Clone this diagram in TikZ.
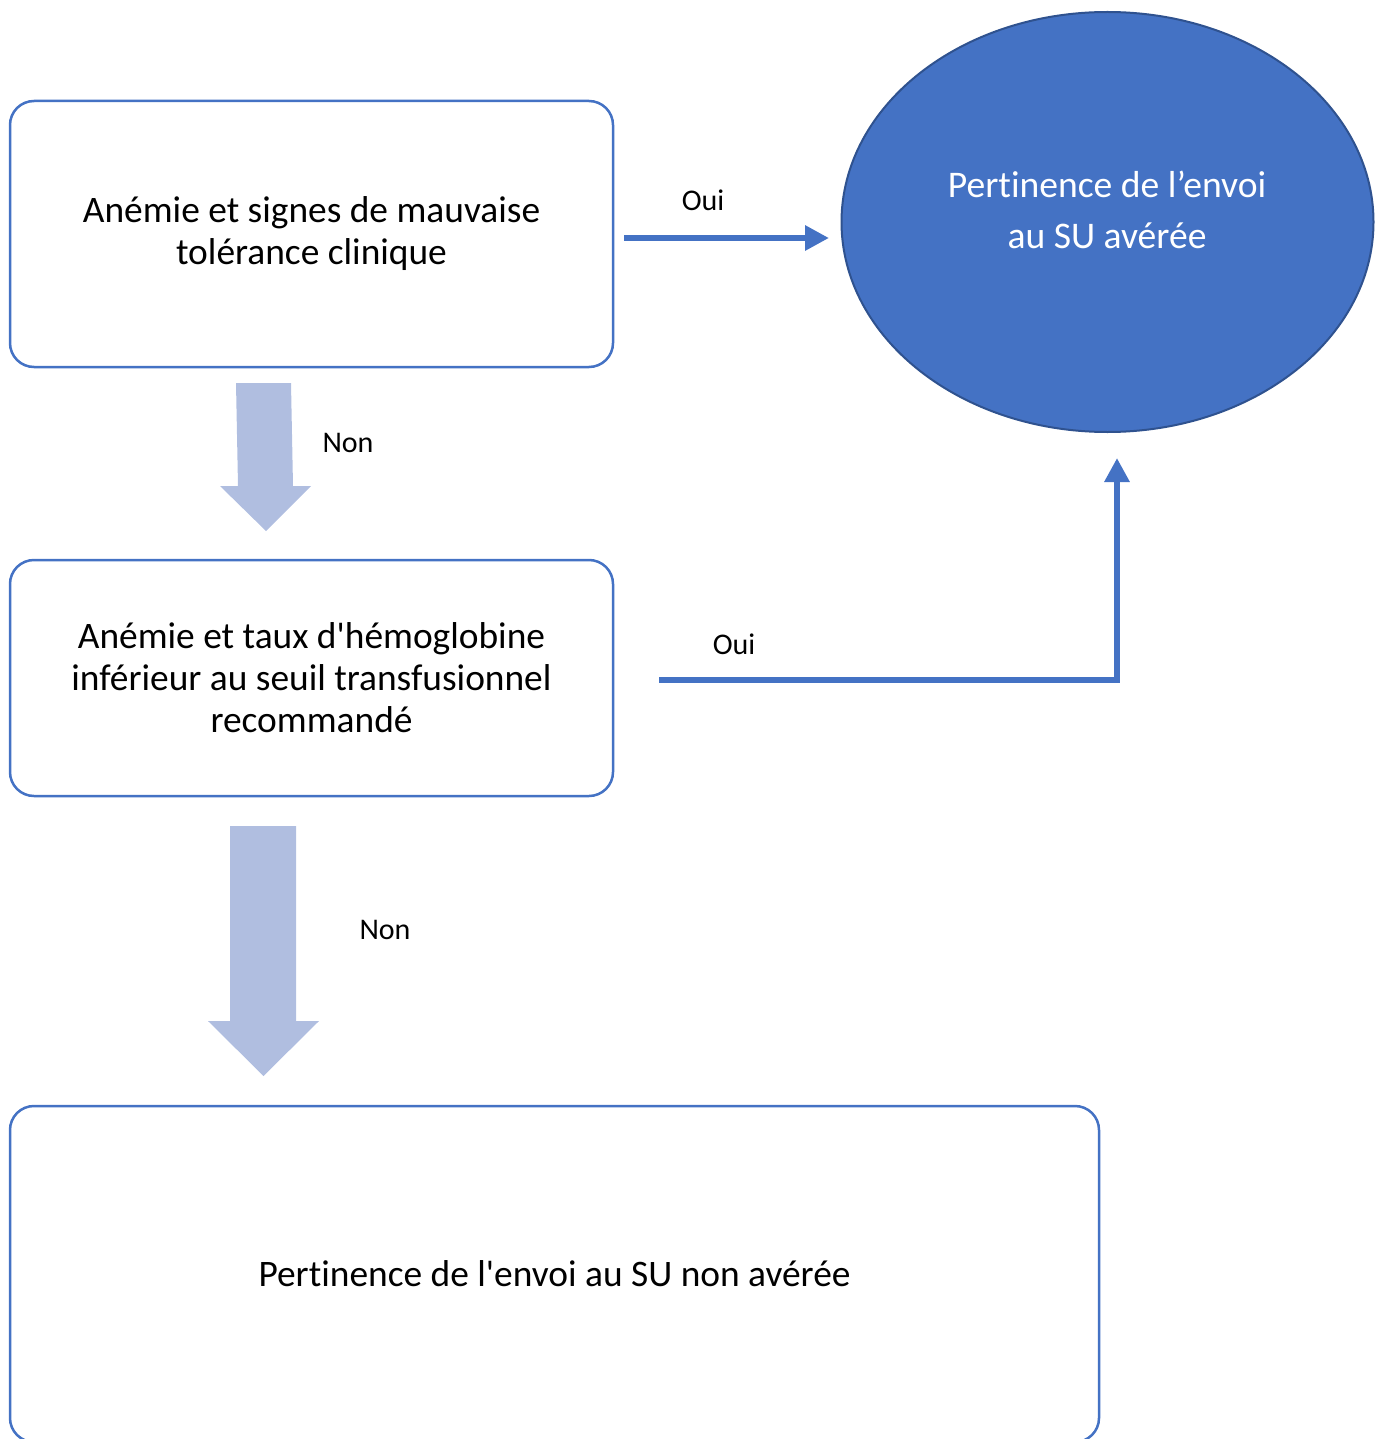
\documentclass[tikz,border=0pt]{standalone}
\usepackage{fontspec}
\setmainfont{Carlito}[Ligatures={NoCommon}]
\usetikzlibrary{arrows.meta,shapes.geometric}
\definecolor{bord}{RGB}{68,114,196}
\definecolor{ellfill}{RGB}{68,114,196}
\definecolor{elldraw}{RGB}{47,82,143}
\definecolor{blockc}{RGB}{176,190,224}
\begin{document}
\begin{tikzpicture}[x=0.5pt,y=-0.5pt,
  box/.style={draw=bord,line width=1.25pt,rounded corners=12pt,fill=white,align=center,
    font=\fontsize{18.7}{21}\selectfont,inner sep=0pt},
  lab/.style={font=\fontsize{15}{18}\selectfont,inner sep=0pt},
  conn/.style={draw=bord,line width=3.3pt,-{Triangle[length=12pt,width=12pt]}},
  block/.style={fill=blockc,draw=none}]
\useasboundingbox (0,0) rectangle (1379,1439);
\node[box,minimum width=301.5pt,minimum height=133pt] (b1) at (311.5,234)
  {Anémie et signes de mauvaise\\tolérance clinique};
\node[box,minimum width=301.5pt,minimum height=118pt] (b2) at (311.5,678)
  {Anémie et taux d\textquotesingle hémoglobine\\inférieur au seuil transfusionnel\\recommandé};
\node[box,minimum width=544.5pt,minimum height=168pt] (b3) at (554.5,1274)
  {Pertinence de l\textquotesingle envoi au SU non avérée};
\node[ellipse,draw=elldraw,fill=ellfill,line width=1pt,minimum width=266pt,minimum height=210pt,inner sep=0pt] (e) at (1107.5,222) {};
\node[align=center,text=white,font=\fontsize{18.8}{25.5}\selectfont,inner sep=0pt] (et) at (1107,210)
  {Pertinence de l’envoi\\au SU avérée};
% Oui arrow 1
\coordinate (o1s) at ([xshift=5pt]b1.east |- 0,238);
\coordinate (o1e) at (829,238);
\draw[conn] (o1s) -- (o1e);
\node[lab] (oui1) at (703,200) {Oui};
% Oui arrow 2
\coordinate (o2s) at ([xshift=22.5pt]b2.east |- 0,680);
\coordinate (o2e) at (1117,458);
\draw[conn] (o2s) -| (o2e);
\node[lab] (oui2) at (734,644) {Oui};
% block arrows
\fill[block] (236,383) -- (291,383) -- (293,486) -- (311,486) -- (266,531) -- (220,486) -- (238,486) -- cycle;
\node[lab] (non1) at (348,443) {Non};
\fill[block] (230,826) -- (296,826) -- (296,1021) -- (319,1021) -- (263.5,1076) -- (208,1021) -- (230,1021) -- cycle;
\node[lab] (non2) at (385,930) {Non};
\end{tikzpicture}
\end{document}
